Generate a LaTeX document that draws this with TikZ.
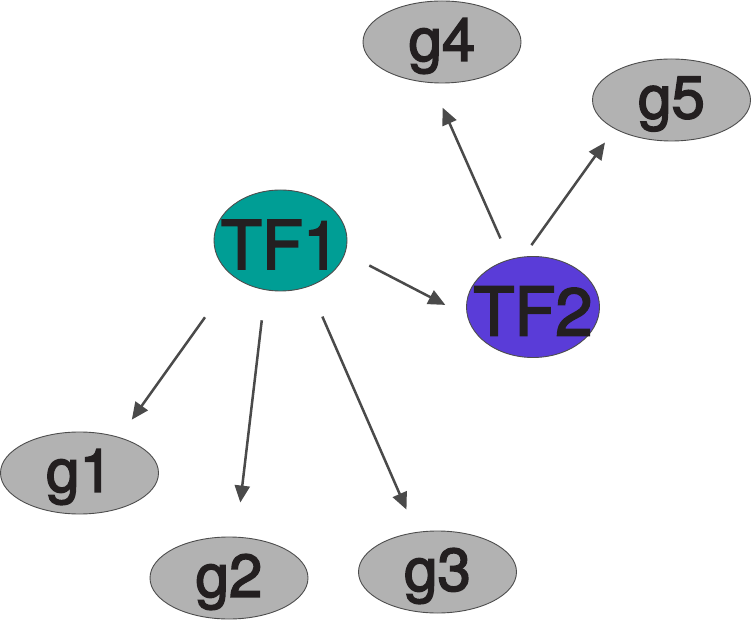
\documentclass[tikz,border=0pt]{standalone}
\usepackage{fontspec}
\setmainfont{TeX Gyre Heros}
\newfontfamily\lblfont{TeX Gyre Heros}[FakeBold=2.6]
\usetikzlibrary{shapes.geometric,arrows.meta}
\definecolor{tfonecol}{RGB}{0,158,149}
\definecolor{tftwocol}{RGB}{90,60,216}
\definecolor{genecol}{RGB}{178,178,178}
\definecolor{edgecol}{RGB}{77,77,77}
\definecolor{arrcol}{RGB}{74,74,74}
\definecolor{txtcol}{RGB}{35,31,32}
\tikzset{
  ell/.style={ellipse, draw=edgecol, line width=0.9pt, inner sep=0pt},
  tfnode/.style={ell, minimum width=133pt, minimum height=101pt,
    label={[font=\lblfont\fontsize{67}{67}\selectfont, text=txtcol, inner sep=0pt, yshift=-4pt]center:#1}},
  gene/.style={ell, fill=genecol, minimum width=158pt, minimum height=82pt,
    label={[font=\lblfont\fontsize{60}{60}\selectfont, text=txtcol, inner sep=0pt, yshift=-4pt]center:#1}},
  arr/.style={draw=arrcol, line width=2.5pt, -{Triangle[length=17pt, width=15pt]}}
}
\begin{document}
\begin{tikzpicture}[x=1pt, y=1pt]
\useasboundingbox (0,0) rectangle (751,621);
\node[tfnode=TF1, fill=tfonecol] (TF1) at (280.5,380.5) {};
\node[tfnode=TF2, fill=tftwocol] (TF2) at (533,314) {};
\node[gene=g1] (g1) at (79.5,148) {};
\node[gene=g2] (g2) at (229,43) {};
\node[gene=g3] (g3) at (437.5,49) {};
\node[gene=g4] (g4) at (442,579) {};
\node[gene=g5] (g5) at (671.5,521) {};
\draw[arr, shorten <=49.5pt, shorten >=21.5pt] (TF1.218.6) -- (g1.42);
\draw[arr, shorten <=30.4pt, shorten >=34.4pt] (TF1.253.6) -- (g2.80.5);
\draw[arr, shorten <=32.8pt, shorten >=24.5pt] (TF1.302.7) -- (g3.118.1);
\draw[arr, shorten <=27pt, shorten >=24.6pt] (TF1.349.6) -- (TF2.188.9);
\draw[arr, shorten <=22.7pt, shorten >=26.9pt] (TF2.116.9) -- (g4.256.1);
\draw[arr, shorten <=14.1pt, shorten >=16.6pt] (TF2.101.7) -- (g5.207.7);
\end{tikzpicture}
\end{document}
